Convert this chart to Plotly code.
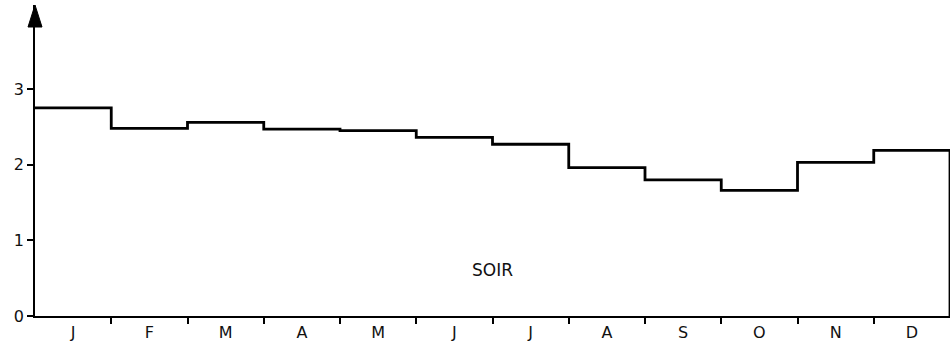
import plotly.graph_objects as go

months = ["J", "F", "M", "A", "M", "J", "J", "A", "S", "O", "N", "D"]
values = [2.75, 2.48, 2.56, 2.47, 2.45, 2.36, 2.27, 1.96, 1.80, 1.66, 2.03, 2.19]
y_ticks = [0, 1, 2, 3]
label = "SOIR"

# step edges: month i spans [i, i+1]; close the last step down to the base
edges = list(range(len(months) + 1)) + [len(months)]
levels = values + [values[-1], 0]
centers = [i + 0.5 for i in range(len(months))]
ymax = 4.11

fig = go.Figure()
fig.add_trace(go.Scatter(x=edges, y=levels, mode='lines', line_shape='hv',
                         line=dict(color='black', width=2.8), showlegend=False, hoverinfo='none'))

fig.add_annotation(x=6.0, y=0.61, text=label, showarrow=False,
                   font=dict(size=17, color='#111', family='DejaVu Sans'))

# arrow head on the y axis (paper ref so it isn't clipped)
fig.add_shape(type='path', xref='paper', yref='paper', xsizemode='pixel', ysizemode='pixel',
              xanchor=0, yanchor=1, path='M -7 -22 L 0 0 L 7 -22 Z',
              fillcolor='black', line=dict(color='black', width=1))

fig.update_layout(
    width=951, height=345,
    margin=dict(l=35, r=1, t=5, b=29),
    paper_bgcolor='white', plot_bgcolor='white',
    font=dict(family='DejaVu Sans', size=16, color='#111'),
    xaxis=dict(range=[0, 12], tickvals=centers, ticktext=months, ticks='',
               showline=True, linecolor='black', linewidth=2, showgrid=False, zeroline=False,
               minor=dict(tickvals=list(range(1, 12)), ticks='outside', ticklen=6,
                          tickcolor='black', tickwidth=1.5, showgrid=False),
               ticklabelstandoff=1),
    yaxis=dict(range=[0, ymax], tickvals=y_ticks, ticks='outside', ticklen=6,
               tickcolor='black', tickwidth=1.5, showline=True, linecolor='black',
               linewidth=1.8, showgrid=False, zeroline=False),
)

fig.write_html("out.html", config={'displayModeBar': False},
               post_script="document.body.style.margin='0';")
